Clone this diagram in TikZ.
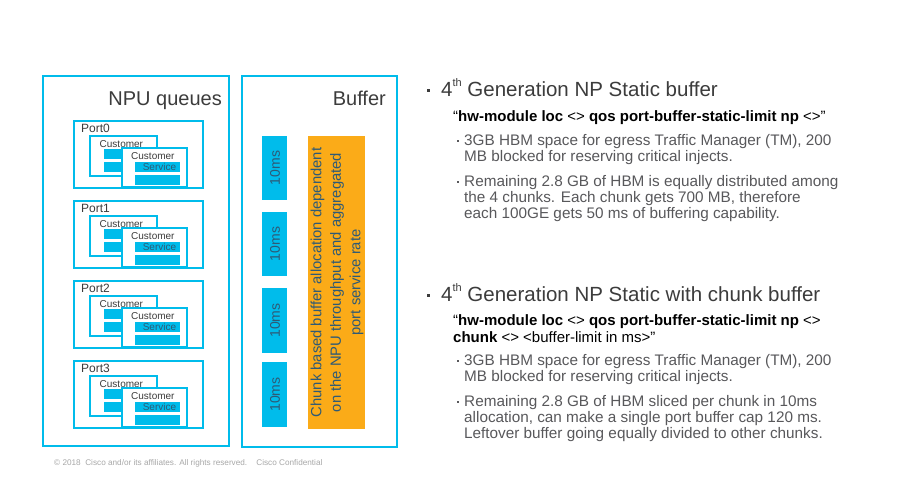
\documentclass[tikz,border=0pt]{standalone}
\usepackage{fontspec}
\setmainfont{Liberation Sans}
\definecolor{cy}{HTML}{00BCEB}
\definecolor{og}{HTML}{FBAB18}
\definecolor{tx}{HTML}{3C3C3C}
\definecolor{bt}{HTML}{58585B}
\definecolor{dk}{HTML}{2E5A76}
\definecolor{ft}{HTML}{A8A8A8}
\newcommand{\supth}{\raisebox{0.45em}{\fontsize{11}{11}\selectfont th}}
\begin{document}
\begin{tikzpicture}[x=1pt,y=-1pt,
  bigbox/.style={draw=cy,line width=2.4pt},
  portbox/.style={draw=cy,line width=1.8pt,fill=white},
  bar/.style={fill=cy,draw=none},
  lbl/.style={inner sep=0pt,anchor=base west,text=tx},
  titletxt/.style={lbl,font=\fontsize{20.5}{24}\selectfont},
  cmdtxt/.style={lbl,font=\fontsize{15}{18}\selectfont,text=black},
  bultxt/.style={lbl,font=\fontsize{15.3}{17}\selectfont,text=bt},
  sq/.style={fill=tx,draw=none,inner sep=0pt,minimum size=3pt},
  ssq/.style={fill=bt,draw=none,inner sep=0pt,minimum size=2pt}]
\useasboundingbox (0,0) rectangle (908,491);
\fill[white] (0,0) rectangle (908,491);
% big boxes
\draw[bigbox] (43,76) rectangle (229,446);
\draw[bigbox] (242,76) rectangle (397,447);
\node[inner sep=0pt,anchor=base east,text=tx,font=\fontsize{20}{24}\selectfont] (npu) at (222,105) {NPU queues};
\node[inner sep=0pt,anchor=base east,text=tx,font=\fontsize{20}{24}\selectfont] (buf) at (386,105) {Buffer};
% ports
\foreach \k in {0,1,2,3}{
  \begin{scope}[yshift=-80*\k]
    \draw[portbox] (74,121) rectangle (203,188);
    \node[lbl,font=\fontsize{12}{14}\selectfont] (port\k) at (81,132) {Port\k};
    \draw[portbox] (90,136) rectangle (157,176);
    \node[lbl,font=\fontsize{10}{12}\selectfont] (cusa\k) at (99.5,147) {Customer};
    \fill[bar] (104,149) rectangle (130,159);
    \fill[bar] (104,162) rectangle (130,172);
    \draw[portbox] (122,148) rectangle (187,187);
    \node[lbl,font=\fontsize{10}{12}\selectfont] (cusb\k) at (131,159.5) {Customer};
    \fill[bar] (135,162) rectangle (180,171.5);
    \node[inner sep=0pt,anchor=base,text=dk,font=\fontsize{10}{12}\selectfont] (serv\k) at (159.5,170) {Service};
    \fill[bar] (135,175) rectangle (180,185);
  \end{scope}
}
% buffer bars
\foreach \t/\b [count=\i] in {136/200,212/276,288/353,362/427}{
  \fill[bar] (262,\t) rectangle (287,\b);
  \node[rotate=90,inner sep=0pt,text=dk,font=\fontsize{14}{16}\selectfont] (ms\i) at (275,{(\t+\b)/2}) {10ms};
}
\fill[og] (308,136) rectangle (365,429);
\node[rotate=90,inner sep=0pt,text=dk,align=center,font=\fontsize{14.8}{19.5}\selectfont] (chunk) at (337,282.5)
  {Chunk based buffer allocation dependent\\on the NPU throughput and aggregated\\port service rate};
% right text section 1
\node[sq] (s1) at (428.5,90) {};
\node[titletxt] (t1) at (441,96) {4\supth\ Generation NP Static buffer};
\node[cmdtxt] (c1) at (453,121.5) {``\textbf{hw-module loc} <> \textbf{qos port-buffer-static-limit np} <>''};
\node[ssq] (s1a) at (457.5,141) {};
\node[bultxt] (b1a1) at (464,145) {3GB HBM space for egress Traffic Manager (TM), 200};
\node[bultxt] (b1a2) at (464,161) {MB blocked for reserving critical injects.};
\node[ssq] (s1b) at (457.5,182) {};
\node[bultxt] (b1b1) at (464,186) {Remaining 2.8 GB of HBM is equally distributed among};
\node[bultxt] (b1b2) at (464,202) {the 4 chunks. Each chunk gets 700 MB, therefore};
\node[bultxt] (b1b3) at (464,218) {each 100GE gets 50 ms of buffering capability.};
% section 2
\node[sq] (s2) at (428.5,295) {};
\node[titletxt] (t2) at (441,301) {4\supth\ Generation NP Static with chunk buffer};
\node[cmdtxt] (c2a) at (453,325) {``\textbf{hw-module loc} <> \textbf{qos port-buffer-static-limit np} <>};
\node[cmdtxt] (c2b) at (453,342) {\textbf{chunk} <> <buffer-limit in ms>''};
\node[ssq] (s2a) at (457.5,361) {};
\node[bultxt] (b2a1) at (464,365) {3GB HBM space for egress Traffic Manager (TM), 200};
\node[bultxt] (b2a2) at (464,381) {MB blocked for reserving critical injects.};
\node[ssq] (s2b) at (457.5,402) {};
\node[bultxt] (b2b1) at (464,406) {Remaining 2.8 GB of HBM sliced per chunk in 10ms};
\node[bultxt] (b2b2) at (464,422) {allocation, can make a single port buffer cap 120 ms.};
\node[bultxt] (b2b3) at (464,438) {Leftover buffer going equally divided to other chunks.};
% footer
\node[lbl,text=ft,font=\fontsize{8.2}{10}\selectfont] (foot) at (54,465) {\textcopyright\ 2018\ \ Cisco and/or its affiliates. All rights reserved.\ \ \ \ Cisco Confidential};
\end{tikzpicture}
\end{document}
